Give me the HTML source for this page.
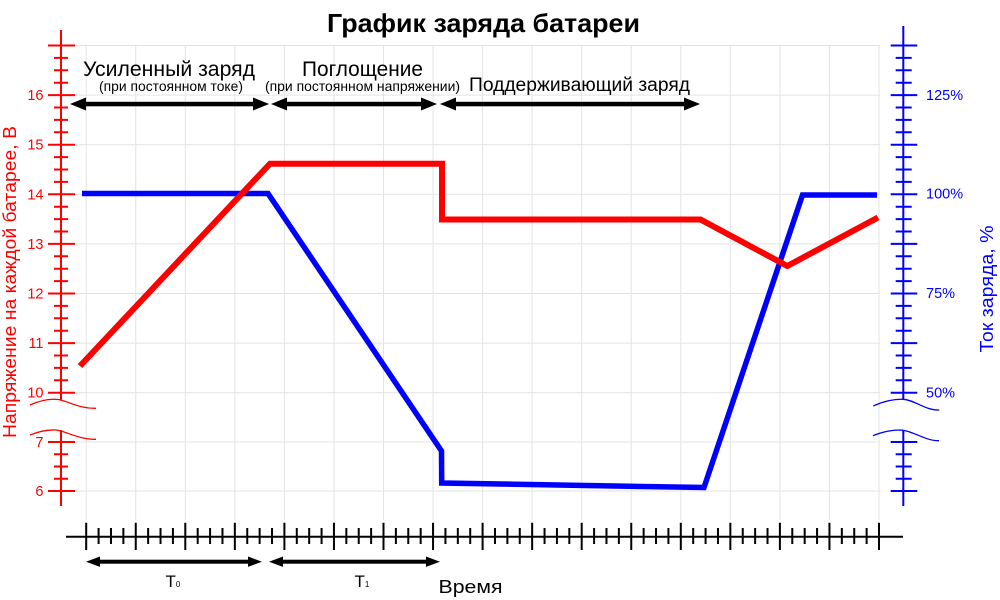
<!DOCTYPE html>
<html>
<head>
<meta charset="utf-8">
<style>
html,body{margin:0;padding:0;background:#fff;}
svg{display:block;}
text{font-family:"Liberation Sans","Noto Sans CJK SC",sans-serif;}
</style>
</head>
<body>
<svg width="1000" height="600" viewBox="0 0 1000 600" xmlns="http://www.w3.org/2000/svg">
<rect width="1000" height="600" fill="#fff"/>

<!-- grid -->
<g stroke="#e3e3e3" stroke-width="1" fill="none">
<path d="M75,45.5H880M75,95.1H880M75,144.7H880M75,194.3H880M75,243.9H880M75,293.5H880M75,343.1H880M75,392.7H880M75,442H880M75,491H880"/>
<path d="M86.2,45.5v474.5 m49.55,-474.5v474.5 m49.55,-474.5v474.5 m49.55,-474.5v474.5 m49.55,-474.5v474.5 m49.55,-474.5v474.5 m49.55,-474.5v474.5 m49.55,-474.5v474.5 m49.55,-474.5v474.5 m49.55,-474.5v474.5 m49.55,-474.5v474.5 m49.55,-474.5v474.5 m49.55,-474.5v474.5 m49.55,-474.5v474.5 m49.55,-474.5v474.5 m49.55,-474.5v474.5 m49.55,-474.5v474.5"/>
</g>

<!-- title -->
<text x="483.5" y="32" font-size="26" font-weight="bold" text-anchor="middle" textLength="313" lengthAdjust="spacingAndGlyphs" fill="#000">График заряда батареи</text>

<!-- phase labels -->
<text x="83" y="76" font-size="21" textLength="172" lengthAdjust="spacingAndGlyphs" fill="#000">Усиленный заряд</text>
<text x="99" y="91" font-size="14" textLength="144" lengthAdjust="spacingAndGlyphs" fill="#000">(при постоянном токе)</text>
<text x="302" y="76" font-size="21" textLength="121" lengthAdjust="spacingAndGlyphs" fill="#000">Поглощение</text>
<text x="265" y="91" font-size="14" textLength="195" lengthAdjust="spacingAndGlyphs" fill="#000">(при постоянном напряжении)</text>
<text x="469" y="91" font-size="19" textLength="221" lengthAdjust="spacingAndGlyphs" fill="#000">Поддерживающий заряд</text>

<!-- top arrows -->
<g fill="#000">
<rect x="80" y="101.8" width="180" height="4.5"/>
<polygon points="70,104 86,97.5 86,110.5"/>
<polygon points="269,104 253,97.5 253,110.5"/>
<rect x="281" y="101.8" width="146" height="4.5"/>
<polygon points="271,104 287,97.5 287,110.5"/>
<polygon points="437,104 421,97.5 421,110.5"/>
<rect x="450" y="101.8" width="240" height="4.5"/>
<polygon points="440,104 456,97.5 456,110.5"/>
<polygon points="700,104 684,97.5 684,110.5"/>
</g>

<!-- left axis (red) -->
<g stroke="#ff0000" fill="none">
<path d="M61,30V400M61,430V506" stroke-width="2"/>
<path d="M48,45.5H75M48,95.1H75M48,144.7H75M48,194.3H75M48,243.9H75M48,293.5H75M48,343.1H75M48,392.7H75M48,442H75M48,491H75" stroke-width="2"/>
<path d="M54,57.9H68M54,70.3H68M54,82.7H68M54,107.5H68M54,119.9H68M54,132.3H68M54,157.1H68M54,169.5H68M54,181.9H68M54,206.7H68M54,219.1H68M54,231.5H68M54,256.3H68M54,268.7H68M54,281.1H68M54,305.9H68M54,318.3H68M54,330.7H68M54,355.5H68M54,367.9H68M54,380.3H68M54,454.25H68M54,466.5H68M54,478.75H68" stroke-width="2"/>
<path d="M30,405 C40,400.5 50,398.5 58,399.5 C68,401 78,408.5 96,408.3" stroke-width="1.3"/>
<path d="M30,435 C40,431 48,429.5 56,430 C66,431 78,439.5 96,439.3" stroke-width="1.3"/>
</g>
<g fill="#ff0000" font-size="14.5" text-anchor="end">
<text x="43.5" y="100">16</text>
<text x="43.5" y="149.7">15</text>
<text x="43.5" y="199.3">14</text>
<text x="43.5" y="248.9">13</text>
<text x="43.5" y="298.5">12</text>
<text x="43.5" y="348.1">11</text>
<text x="43.5" y="397.7">10</text>
<text x="43.5" y="447">7</text>
<text x="43.5" y="496">6</text>
</g>
<text transform="translate(16,282) rotate(-90)" font-size="18" text-anchor="middle" textLength="312" lengthAdjust="spacingAndGlyphs" fill="#ff0000">Напряжение на каждой батарее, В</text>

<!-- right axis (blue) -->
<g stroke="#0000ff" fill="none">
<path d="M903.3,26V400M903.3,430V506" stroke-width="2"/>
<path d="M890.7,45.5H917.3M890.7,95.1H917.3M890.7,144.7H917.3M890.7,194.3H917.3M890.7,243.9H917.3M890.7,293.5H917.3M890.7,343.1H917.3M890.7,392.7H917.3M890.7,442H917.3M890.7,491H917.3" stroke-width="2"/>
<path d="M895.7,57.9H911.7M895.7,70.3H911.7M895.7,82.7H911.7M895.7,107.5H911.7M895.7,119.9H911.7M895.7,132.3H911.7M895.7,157.1H911.7M895.7,169.5H911.7M895.7,181.9H911.7M895.7,206.7H911.7M895.7,219.1H911.7M895.7,231.5H911.7M895.7,256.3H911.7M895.7,268.7H911.7M895.7,281.1H911.7M895.7,305.9H911.7M895.7,318.3H911.7M895.7,330.7H911.7M895.7,355.5H911.7M895.7,367.9H911.7M895.7,380.3H911.7M895.7,454.25H911.7M895.7,466.5H911.7M895.7,478.75H911.7" stroke-width="2"/>
<path d="M873.3,406 C883,401.5 893,399 903,399.3 C915,400 925,410.5 939.3,410" stroke-width="1.3"/>
<path d="M873,435.7 C882,432 891,430 900,430 C913,430.5 925,441 939,440.7" stroke-width="1.3"/>
</g>
<g fill="#0000ff" font-size="14.5">
<text x="926" y="100">125%</text>
<text x="926" y="198.5">100%</text>
<text x="926" y="298">75%</text>
<text x="926" y="397.5">50%</text>
</g>
<text transform="translate(993,289) rotate(-90)" font-size="18" text-anchor="middle" textLength="127" lengthAdjust="spacingAndGlyphs" fill="#0000ff">Ток заряда, %</text>

<!-- series -->
<polyline points="82,193.5 268,193.5 441.5,451 441.7,483 704,487.5 802.5,195 877,195" fill="none" stroke="#0000ff" stroke-width="5.5" stroke-linejoin="miter"/>
<polyline points="80,366 270,163.7 442,163.7 442,219.5 700.5,219.5 787.3,266 878,217.5" fill="none" stroke="#ff0000" stroke-width="6" stroke-linejoin="miter"/>

<!-- time axis -->
<g stroke="#000" fill="none" stroke-width="2">
<path d="M66,536.7H903"/>
<path d="M86.2,522.7v27.3 m49.55,-27.3v27.3 m49.55,-27.3v27.3 m49.55,-27.3v27.3 m49.55,-27.3v27.3 m49.55,-27.3v27.3 m49.55,-27.3v27.3 m49.55,-27.3v27.3 m49.55,-27.3v27.3 m49.55,-27.3v27.3 m49.55,-27.3v27.3 m49.55,-27.3v27.3 m49.55,-27.3v27.3 m49.55,-27.3v27.3 m49.55,-27.3v27.3 m49.55,-27.3v27.3 m49.55,-27.3v27.3"/>
<path d="M98.59,528v16 m12.39,-16v16 m12.39,-16v16 m24.77,-16v16 m12.39,-16v16 m12.39,-16v16 m24.77,-16v16 m12.39,-16v16 m12.39,-16v16 m24.77,-16v16 m12.39,-16v16 m12.39,-16v16 m24.77,-16v16 m12.39,-16v16 m12.39,-16v16 m24.77,-16v16 m12.39,-16v16 m12.39,-16v16 m24.77,-16v16 m12.39,-16v16 m12.39,-16v16 m24.77,-16v16 m12.39,-16v16 m12.39,-16v16 m24.77,-16v16 m12.39,-16v16 m12.39,-16v16 m24.77,-16v16 m12.39,-16v16 m12.39,-16v16 m24.77,-16v16 m12.39,-16v16 m12.39,-16v16 m24.77,-16v16 m12.39,-16v16 m12.39,-16v16 m24.77,-16v16 m12.39,-16v16 m12.39,-16v16 m24.77,-16v16 m12.39,-16v16 m12.39,-16v16 m24.77,-16v16 m12.39,-16v16 m12.39,-16v16 m24.77,-16v16 m12.39,-16v16 m12.39,-16v16"/>
</g>

<!-- bottom arrows -->
<g fill="#000">
<rect x="96" y="559.7" width="156" height="4"/>
<polygon points="86,561.7 100,556.5 100,566.9"/>
<polygon points="262,561.7 248,556.5 248,566.9"/>
<rect x="279" y="559.7" width="151" height="4"/>
<polygon points="269,561.7 283,556.5 283,566.9"/>
<polygon points="440,561.7 426,556.5 426,566.9"/>
</g>
<text x="165.5" y="587" font-size="17" fill="#000">T<tspan font-size="8">0</tspan></text>
<text x="354.5" y="587" font-size="17" fill="#000">T<tspan font-size="8">1</tspan></text>
<text x="438.5" y="593" font-size="18" textLength="64" lengthAdjust="spacingAndGlyphs" fill="#000">Время</text>
</svg>
</body>
</html>
